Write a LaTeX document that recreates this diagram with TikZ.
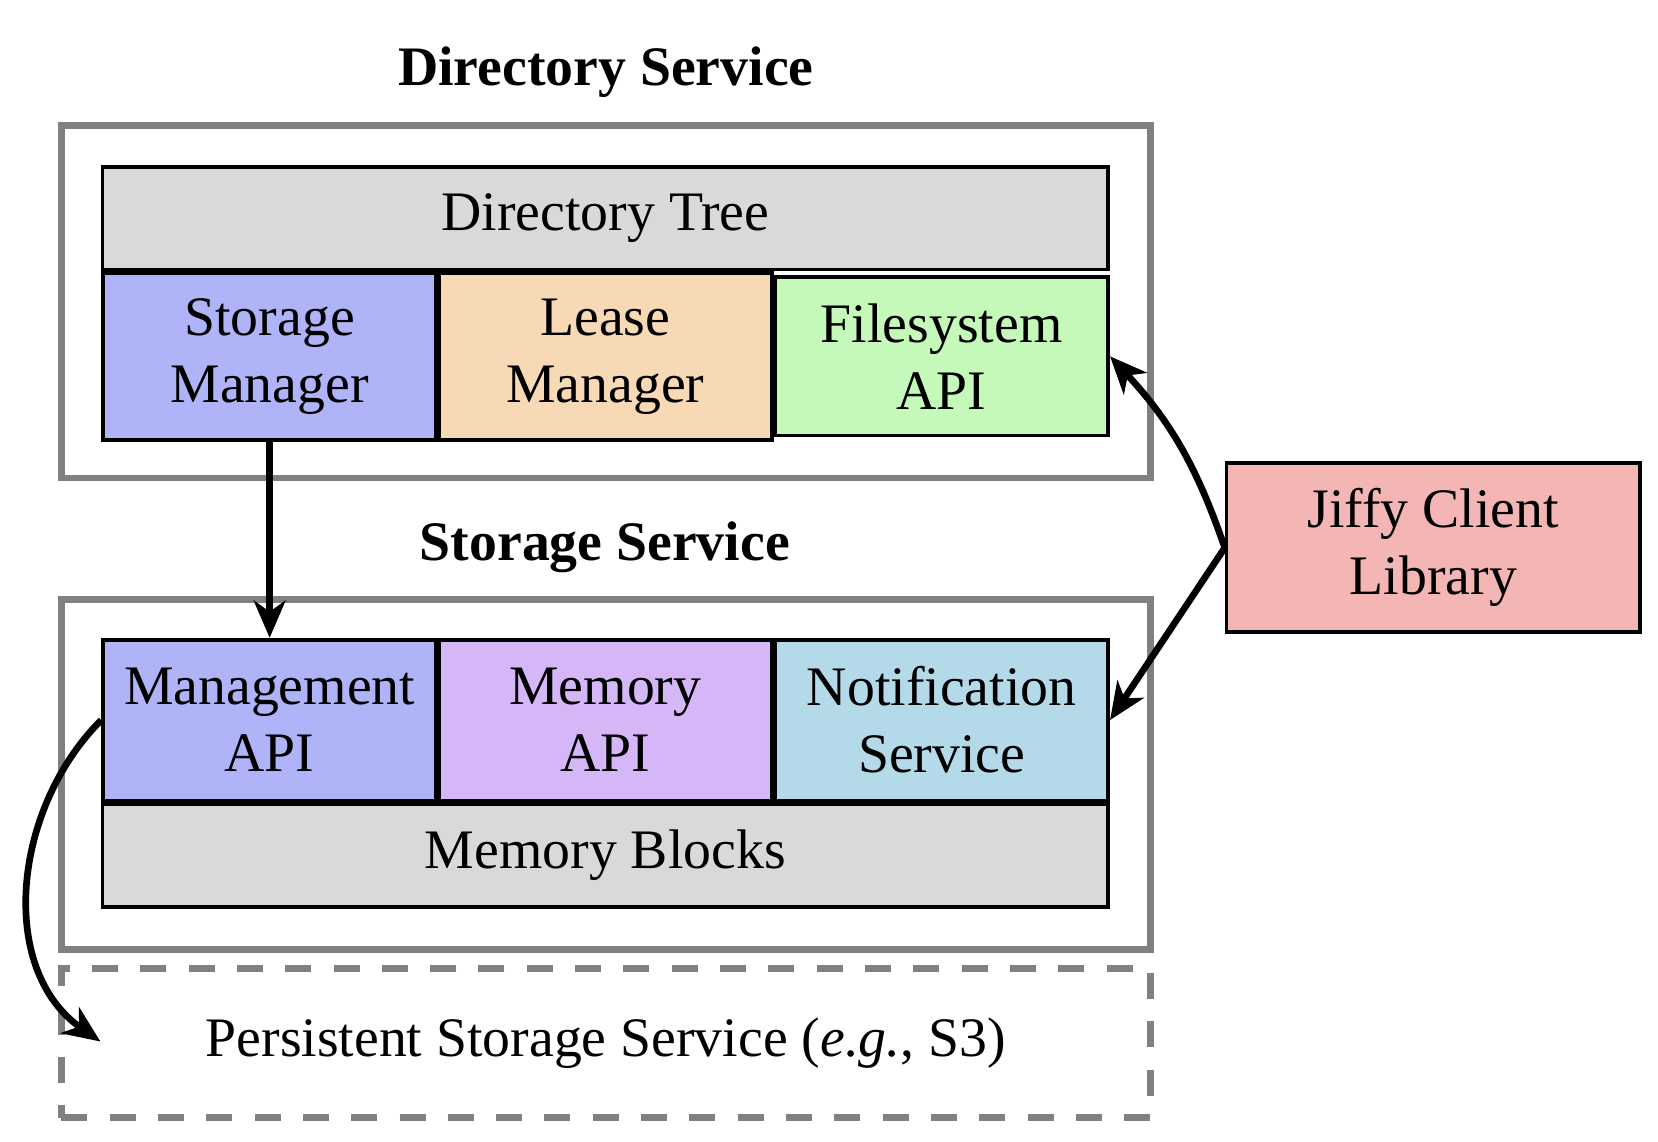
\documentclass[tikz,border=0pt]{standalone}
\usepackage{fontspec}
\setmainfont{Liberation Serif}
\usetikzlibrary{arrows.meta}

\begin{document}
\begin{tikzpicture}

\tikzstyle{outer} = [rectangle, draw=black!50, line width=1.8pt, minimum width=10.3cm]
\tikzstyle{block} = [rectangle, draw=black, line width=1pt, align=center, minimum width=3.15cm, font=\fontsize{15}{18}\selectfont]
\tikzstyle{layer} = [block, fill=black!15, minimum width=9.51cm, minimum height=0.97cm]
\tikzstyle{title} = [font=\fontsize{15}{18}\selectfont\bfseries]
\tikzstyle{link} = [-{Stealth[length=10pt, width=8.5pt, inset=3pt]}, line width=1.8pt]

\useasboundingbox (0, 0) rectangle (15.68, 10.8);

\definecolor{mgrblue}{HTML}{AFB3F7}
\definecolor{leaseorange}{HTML}{F8D9B6}
\definecolor{fsgreen}{HTML}{C4F9B9}
\definecolor{mempurple}{HTML}{D5B6F7}
\definecolor{notifblue}{HTML}{B4DAEA}
\definecolor{jiffyred}{HTML}{F4B5B5}

% directory service
\node[title] (dirtitle) at (5.73, 10.12) {Directory Service};
\node[outer, minimum height=3.33cm] (dirbox) at (5.73, 7.945) {};
\node[layer] (tree) at (5.725, 8.735) {Directory Tree};
\node[block, fill=mgrblue, minimum height=1.58cm] (stomgr) at (2.55, 7.43) {Storage\\Manager};
\node[block, fill=leaseorange, minimum height=1.58cm] (lease) at (5.725, 7.43) {Lease\\Manager};
\node[block, fill=fsgreen, minimum height=1.5cm] (fsapi) at (8.905, 7.43) {Filesystem\\API};

% storage service
\node[title] (stotitle) at (5.72, 5.62) {Storage Service};
\node[outer, minimum height=3.31cm] (stobox) at (5.73, 3.475) {};
\node[block, fill=mgrblue, minimum height=1.52cm] (mgmt) at (2.55, 3.99) {Management\\API};
\node[block, fill=mempurple, minimum height=1.52cm] (memapi) at (5.725, 3.99) {Memory\\API};
\node[block, fill=notifblue, minimum height=1.52cm] (notif) at (8.905, 3.99) {Notification\\Service};
\node[layer] (blocks) at (5.725, 2.71) {Memory Blocks};

% persistent storage
\node[outer, dashed, dash pattern=on 7pt off 6pt, minimum height=1.41cm, font=\fontsize{15}{18}\selectfont] (persist) at (5.73, 0.935) {Persistent Storage Service (\emph{e.g.}, S3)};
\coordinate (persistin) at (0.95, 0.95);

% client
\node[block, fill=jiffyred, minimum width=3.91cm, minimum height=1.6cm] (jiffy) at (13.555, 5.62) {Jiffy Client\\Library};

\draw[link] (stomgr.south) -- (mgmt.north);
\draw[link] (jiffy.west) to[bend right=12] (fsapi.east);
\draw[link] (jiffy.west) -- (notif.east);
\draw[link] (mgmt.west) to[out=225, in=145] (persistin);

\end{tikzpicture}
\end{document}
